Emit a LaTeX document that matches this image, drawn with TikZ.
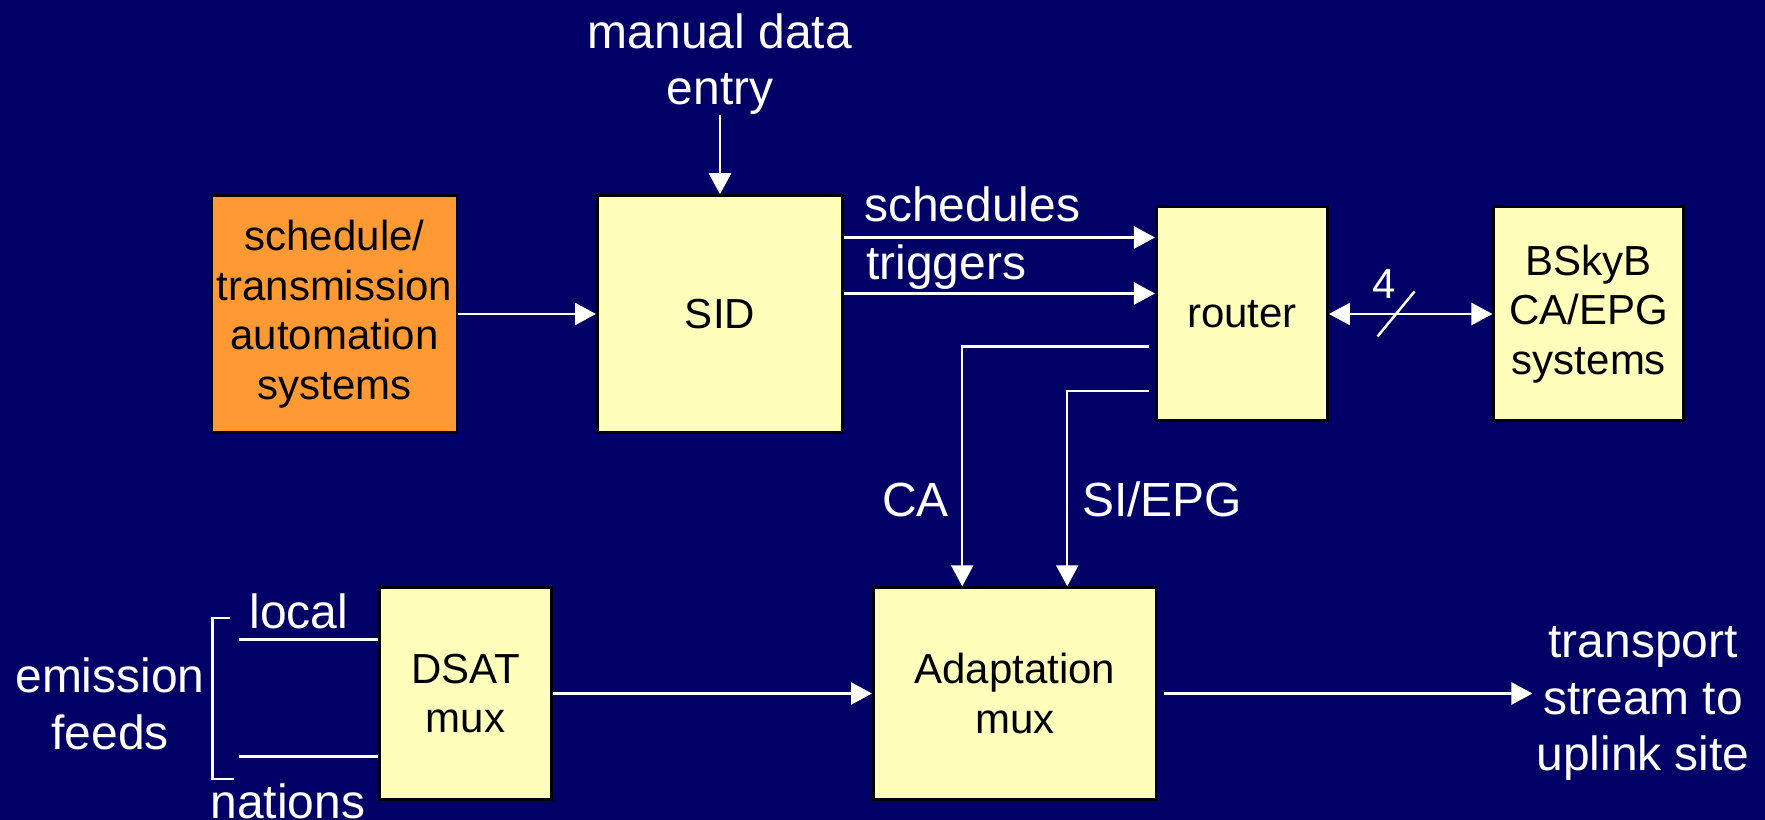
\documentclass[tikz,border=0pt]{standalone}
\usepackage{fontspec}
\setmainfont{Liberation Sans}
\usetikzlibrary{arrows.meta,positioning}
\definecolor{navy}{HTML}{000066}
\definecolor{pale}{HTML}{FFFFBB}
\definecolor{amber}{HTML}{FF9933}
\tikzset{
	%Define standard arrow tip
	>={Triangle[length=0.42cm,width=0.44cm]},
	%Define style for boxes
	blokk/.style={
		rectangle,
		draw=black, line width=1.7pt,
		fill=pale,
		text=black,
		align=center,
		font=\fontsize{23.9}{28.2}\selectfont,
		inner sep=0pt},
	% Define style for white labels
	tekst/.style={
		text=white,
		align=center,
		font=\fontsize{27.3}{32.2}\selectfont},
	% Define line style
	linje/.style={
		draw=white,
		line width=1.4pt}
}

\begin{document}
\begin{tikzpicture}
	\fill[navy] (0,0) rectangle (35.3,16.4);
	\useasboundingbox (0,0) rectangle (35.3,16.4);

	\node[blokk, fill=amber, minimum width=4.9cm, minimum height=4.73cm] (auto-sys) at (6.69,10.12) {schedule/\\transmission\\automation\\systems};
	\node[blokk, minimum width=4.9cm, minimum height=4.73cm, right = 2.75cm of auto-sys] (sid) {SID};
	\node[blokk, minimum width=3.42cm, minimum height=4.28cm, right = 6.22cm of sid] (router) {router};
	\node[blokk, minimum width=3.8cm, minimum height=4.28cm, right = 3.27cm of router] (bskyb) {BSkyB\\CA/EPG\\systems};

	\node[blokk, minimum width=3.44cm, minimum height=4.23cm] (dsat-mux) at (9.31,2.53) {DSAT\\mux};
	\node[blokk, minimum width=5.65cm, minimum height=4.23cm, right = 6.38cm of dsat-mux] (adapt-mux) {Adaptation\\mux};

	\node[tekst, above = 1.58cm of sid, inner sep=0pt] (manual) {manual data\\entry};
	\node[tekst, inner sep=2pt] (transport) at (32.86,2.33) {transport\\stream to\\uplink site};
	\node[tekst] (feeds) at (2.2,2.32) {emission\\feeds};
	\node[tekst, anchor=base] (local) at (5.98,3.83) {local};
	\node[tekst, anchor=base] (nations) at (5.76,0.03) {nations};
	\node[tekst, anchor=base] (ca) at (18.31,6.06) {CA};
	\node[tekst, anchor=base] (si-epg) at (23.24,6.06) {SI/EPG};

	% into the SID
	\draw[linje, ->] (auto-sys) -- (sid);
	\draw[linje, ->] (manual) -- (sid);

	% SID to router
	\draw[linje, ->] ([yshift=1.53cm]sid.east) -- ([yshift=1.53cm]sid.east -| router.west)
		node[tekst, anchor=base west, pos=0, inner sep=0pt, xshift=0.38cm, yshift=0.31cm] (sched) {schedules};
	\draw[linje, ->] ([yshift=0.41cm]sid.east) -- ([yshift=0.41cm]sid.east -| router.west)
		node[tekst, anchor=base west, pos=0, inner sep=0pt, xshift=0.42cm, yshift=0.27cm] (trig) {triggers};

	% router to BSkyB, 4 lines
	\draw[linje, <->] (router) -- (bskyb) coordinate[pos=0.41] (bus);
	\draw[linje] ([shift={(-0.37,-0.45)}]bus) -- ([shift={(0.37,0.45)}]bus);
	\node[text=white, font=\fontsize{23.9}{28.2}\selectfont, anchor=base] (bus-width) at ([shift={(-0.24,0.31)}]bus) {4};

	% router to adaptation mux
	\draw[linje, ->, shorten <=0.12cm] ([yshift=-0.65cm]router.west) -| ([xshift=-1.05cm]adapt-mux.north);
	\draw[linje, ->, shorten <=0.12cm] ([yshift=-1.54cm]router.west) -| ([xshift=1.05cm]adapt-mux.north);

	% muxes and output
	\draw[linje, ->] (dsat-mux) -- (adapt-mux);
	\draw[linje, ->, shorten <=0.14cm] (adapt-mux.east) -- (adapt-mux.east -| transport.west);

	% emission feeds
	\coordinate (local-in) at (4.77,3.61);
	\coordinate (nations-in) at (4.77,1.27);
	\draw[linje] (local-in) -- (local-in -| dsat-mux.west);
	\draw[linje] (nations-in) -- (nations-in -| dsat-mux.west);
	\draw[linje] (4.6,4.04) -- (4.25,4.04) -- (4.25,0.82) -- (4.68,0.82);
\end{tikzpicture}
\end{document}
